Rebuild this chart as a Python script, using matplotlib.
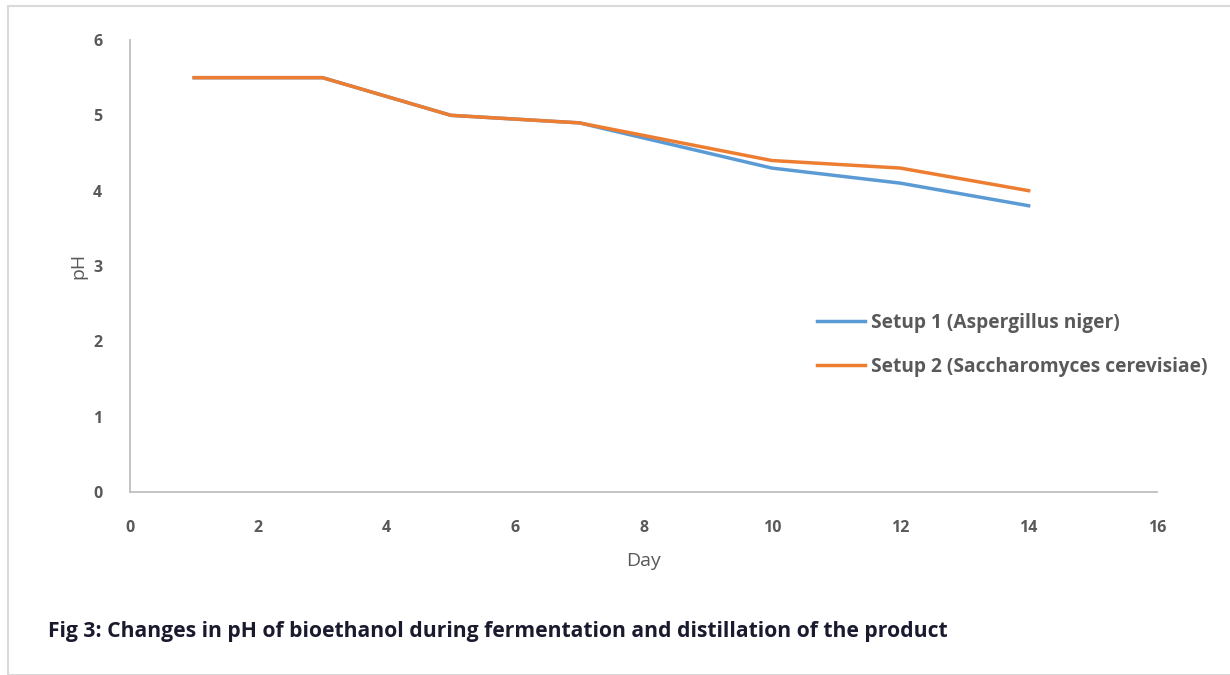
import matplotlib.pyplot as plt
from matplotlib.patches import Rectangle

days = [1, 3, 5, 7, 10, 12, 14]
setup1 = [5.5, 5.5, 5.0, 4.9, 4.3, 4.1, 3.8]
setup2 = [5.5, 5.5, 5.0, 4.9, 4.4, 4.3, 4.0]
labels = ["Setup 1 (Aspergillus niger)", "Setup 2 (Saccharomyces cerevisiae)"]

plt.rcParams['font.family'] = ['Open Sans', 'DejaVu Sans']

fig = plt.figure(figsize=(12.3, 6.75), dpi=100)
fig.patches.append(Rectangle((8 / 1230, 0), 1, 1 - 6 / 675, transform=fig.transFigure,
                             fill=False, edgecolor='#d9d9d9', linewidth=1.5))

ax = fig.add_axes([130 / 1230, 1 - 492 / 675, 1027 / 1230, 452 / 675])
ax.plot(days, setup1, color='#5b9bd5', linewidth=2.5, label=labels[0])
ax.plot(days, setup2, color='#ed7d31', linewidth=2.5, label=labels[1])

ax.set_xlim(0, 16)
ax.set_ylim(0, 6)
ax.set_xticks(range(0, 17, 2))
ax.set_yticks(range(0, 7))
for s in ['top', 'right']:
    ax.spines[s].set_visible(False)
for s in ['left', 'bottom']:
    ax.spines[s].set_color('#bfbfbf')
    ax.spines[s].set_linewidth(1.3)
ax.tick_params(length=0, labelsize=11.5, labelcolor='#595959')
ax.tick_params(axis='x', pad=20)
ax.tick_params(axis='y', pad=20)
for t in ax.get_xticklabels() + ax.get_yticklabels():
    t.set_fontweight('bold')

ax.set_xlabel('Day', fontsize=14, color='#595959', labelpad=12)
ax.set_ylabel('pH', fontsize=14, color='#595959', labelpad=4)

ax.legend(loc='center left', bbox_to_anchor=(0.652, 0.325), frameon=False,
          prop={'size': 13.8, 'weight': 'bold'},
          handlelength=2.5, handletextpad=0.3, labelspacing=1.25, labelcolor='#595959')

fig.text(48 / 1230, 1 - 632 / 675, 'Fig 3: Changes in pH of bioethanol during fermentation and distillation of the product',
         fontsize=15.2, fontweight='bold', color='#1a1a2e', va='center')

fig.savefig('out.png', dpi=100)
